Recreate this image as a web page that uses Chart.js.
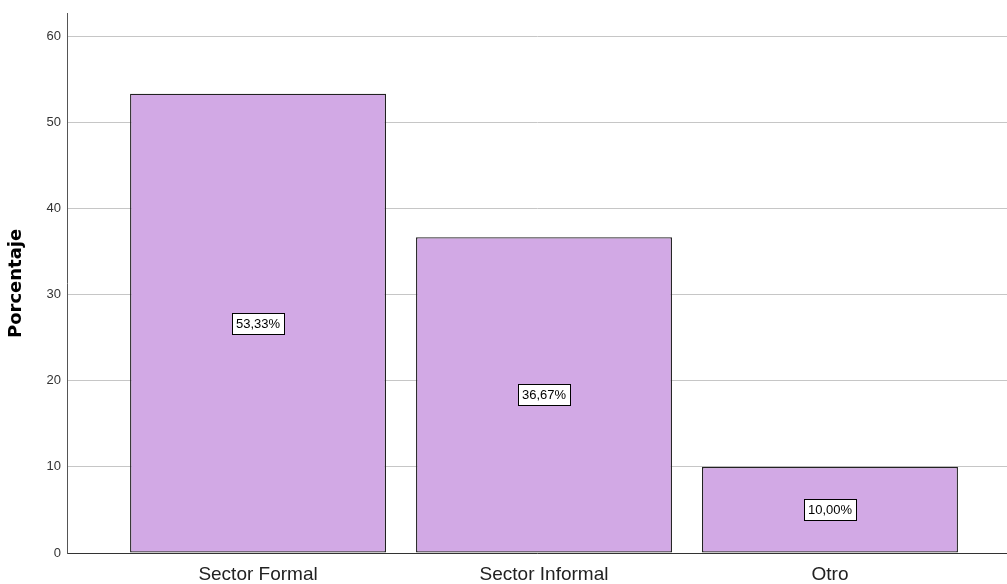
<!DOCTYPE html>
<html>
<head>
<meta charset="utf-8">
<script src="https://cdn.jsdelivr.net/npm/chart.js@4/dist/chart.umd.min.js"></script>
<style>
html,body{margin:0;padding:0;background:#fff;}
canvas{display:block;}
</style>
</head>
<body>
<canvas id="c" width="1007" height="584"></canvas>
<script>
const categories = ["Sector Formal", "Sector Informal", "Otro"];
const percentages = [53.33, 36.67, 10.00];
const percentLabels = ["53,33%", "36,67%", "10,00%"];
const yTicks = [0, 10, 20, 30, 40, 50, 60];
const yTitle = "Porcentaje";

const labelPlugin = {
  id: 'boxLabels',
  afterDatasetsDraw(chart) {
    const ctx = chart.ctx;
    const meta = chart.getDatasetMeta(0);
    ctx.save();
    ctx.font = '13px "Liberation Sans", Arial, sans-serif';
    ctx.textAlign = 'center';
    ctx.textBaseline = 'middle';
    meta.data.forEach((el, i) => {
      const p = el.getProps(['x', 'y', 'base'], true);
      const cx = p.x;
      const cy = (p.y + p.base) / 2;
      const txt = percentLabels[i];
      const w = Math.round(ctx.measureText(txt).width) + 8;
      const h = 21;
      const x0 = Math.round(cx - w / 2) + 0.5;
      const y0 = Math.round(cy - h / 2) + 0.5;
      ctx.fillStyle = '#ffffff';
      ctx.fillRect(x0, y0, w, h);
      ctx.strokeStyle = '#000000';
      ctx.lineWidth = 1;
      ctx.strokeRect(x0, y0, w, h);
      ctx.fillStyle = '#000000';
      ctx.fillText(txt, cx, cy + 1);
    });
    ctx.restore();
  }
};

new Chart(document.getElementById('c'), {
  type: 'bar',
  data: {
    datasets: [{
      data: percentages.map((v, i) => ({ x: i, y: v })),
      backgroundColor: 'rgb(210,169,229)',
      borderColor: '#222222',
      borderWidth: 1.3,
      borderSkipped: false,
      barPercentage: 0.895,
      categoryPercentage: 1.0
    }]
  },
  options: {
    responsive: false,
    animation: false,
    layout: { padding: { top: 12, left: 0, right: 0, bottom: 0 } },
    plugins: { legend: { display: false }, tooltip: { enabled: false } },
    scales: {
      x: {
        type: 'linear',
        offset: false,
        min: -0.668,
        max: 2.619,
        grid: { display: false, drawTicks: false, offset: false },
        border: { display: true, color: '#333333', width: 1 },
        afterBuildTicks(scale) {
          scale.ticks = categories.map((c, i) => ({ value: i }));
        },
        afterFit(scale) { scale.height = 31; },
        ticks: {
          autoSkip: false,
          maxRotation: 0,
          padding: 10,
          color: '#222222',
          font: { family: '"Liberation Sans", Arial, sans-serif', size: 19 },
          callback: (v) => categories[v] !== undefined ? categories[v] : ''
        }
      },
      y: {
        min: 0,
        max: 62.6,
        grid: { color: '#c6c6c6', lineWidth: 1, drawTicks: false, tickLength: 0 },
        border: { display: true, color: '#555555', width: 1 },
        afterBuildTicks(scale) {
          scale.ticks = yTicks.map(v => ({ value: v }));
        },
        afterFit(scale) { scale.width = 67; },
        ticks: {
          padding: 6,
          color: '#333333',
          font: { family: '"Liberation Sans", Arial, sans-serif', size: 13 }
        },
        title: {
          display: true,
          text: yTitle,
          color: '#000000',
          font: { family: '"DejaVu Sans", sans-serif', size: 18, weight: 'bold' },
          padding: { top: 6, bottom: 0 }
        }
      }
    }
  },
  plugins: [labelPlugin]
});
</script>
</body>
</html>
